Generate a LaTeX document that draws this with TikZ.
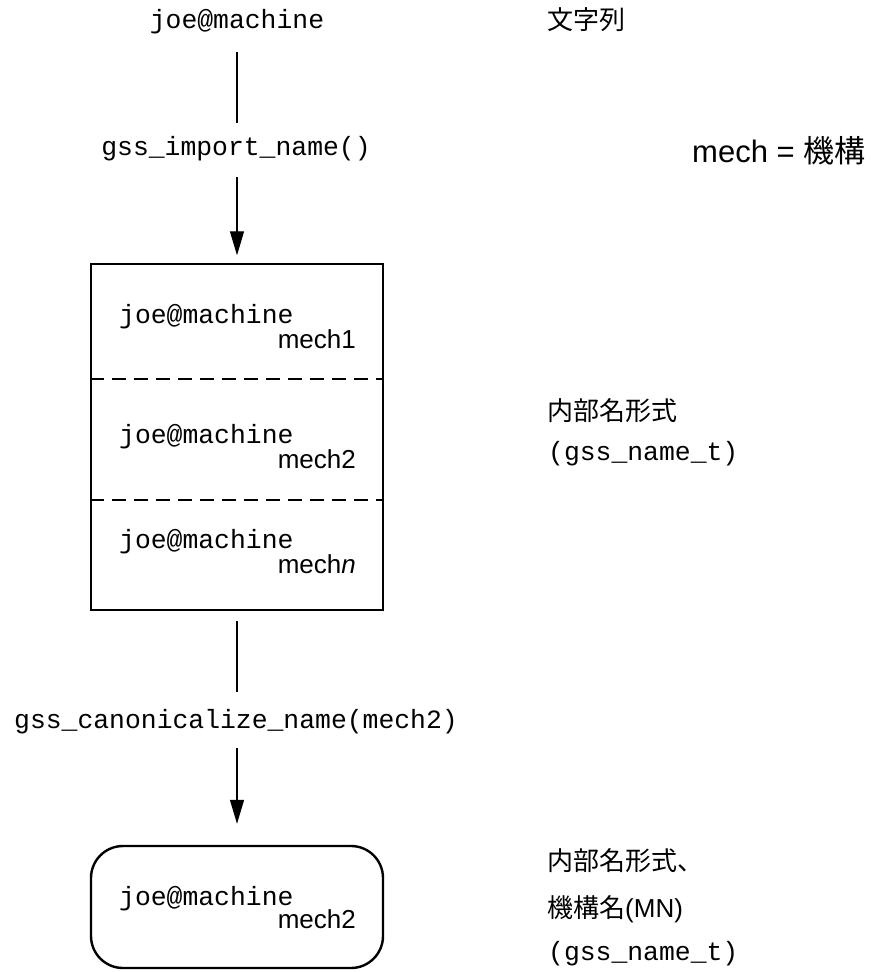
\documentclass[tikz,border=0pt]{standalone}
\usepackage{fontspec}
\setmainfont{Liberation Sans}
\setmonofont{Liberation Mono}
\newfontfamily\jp{Noto Sans CJK JP}
\usetikzlibrary{arrows.meta}

\tikzset{
  mono/.style={font=\ttfamily\fontsize{26.4}{30}\selectfont,inner sep=0,text height=17pt,text depth=5pt},
  sans/.style={font=\fontsize{26}{30}\selectfont,inner sep=0},
  jptext/.style={font=\jp\fontsize{26}{30}\selectfont,inner sep=0},
  flow/.style={line width=1.3pt},
  flowarrow/.style={line width=1.3pt,-{Triangle[length=24pt,width=14pt]}},
  namebox/.style={draw,line width=2.4pt,minimum width=292pt,inner sep=0},
  dashline/.style={line width=2pt,dash pattern=on 14pt off 8pt}
}

\begin{document}
\begin{tikzpicture}[x=1pt,y=-1pt]
\useasboundingbox (0,0) rectangle (875,972);

% left column: the flow
\node[mono,anchor=base] (src) at (237,28) {joe@machine};
\node[mono,anchor=base] (imp) at (236,155) {gss\_import\_name()};
\node[namebox,minimum height=346pt] (names) at (237,437) {};
\node[mono,anchor=base] (canon) at (236,728) {gss\_canonicalize\_name(mech2)};
\node[namebox,minimum height=122pt,rounded corners=32pt] (mn) at (237,907) {};

\draw[flow,shorten <=19pt,shorten >=15pt] (src.south) -- (src.south |- imp.north);
\draw[flowarrow,shorten <=17pt,shorten >=7.5pt] (names.north |- imp.south) -- (names.north);
\draw[flow,shorten <=10pt,shorten >=19pt] (names.south) -- (names.south |- canon.north);
\draw[flowarrow,shorten <=15pt,shorten >=21pt] (mn.north |- canon.south) -- (mn.north);

\foreach \d in {116,237}{
\draw[dashline] ([yshift=-\d pt]names.north west) -- ([yshift=-\d pt]names.north east);
}

\foreach \y/\m [count=\i] in {323/mech1,443/mech2,548/mech\textit{n}}{
\node[mono,anchor=base west] (host\i) at (119,\y) {joe@machine};
\node[sans,anchor=base east] (mech\i) at (356,\y+25) {\m};
}
\node[mono,anchor=base west] (hostmn) at (119,905) {joe@machine};
\node[sans,anchor=base east] (mechmn) at (356,928) {mech2};

% right column: labels
\node[jptext,anchor=base west] (strlbl) at (547,29) {文字列};
\node[inner sep=0,anchor=base west,font=\fontsize{31}{36}\selectfont] (mechlbl) at (692,162) {mech = {\jp 機構}};
\node[jptext,anchor=base west] (intlbl) at (547,420) {内部名形式};
\node[mono,anchor=base west] (inttype) at (548,460) {(gss\_name\_t)};
\node[jptext,anchor=base west] (mnlbl) at (547,870) {内部名形式、};
\node[sans,anchor=base west] (mnname) at (547,917) {{\jp 機構名}(MN)};
\node[mono,anchor=base west] (mntype) at (548,960) {(gss\_name\_t)};
\end{tikzpicture}
\end{document}
